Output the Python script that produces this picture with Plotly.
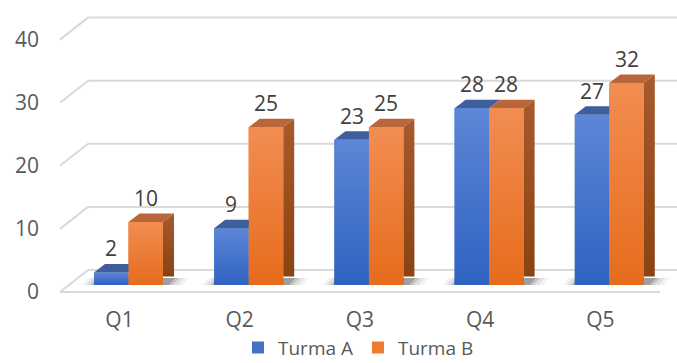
import plotly.graph_objects as go

# ---- data ----
categories = ["Q1", "Q2", "Q3", "Q4", "Q5"]
turma_a = [2, 9, 23, 28, 27]
turma_b = [10, 25, 25, 28, 32]
series_names = ["Turma A", "Turma B"]
y_ticks = [0, 10, 20, 30, 40]

# ---- geometry (pixels -> data units) ----
W, H = 677, 363
ML, MB = 40, 58
PLOT_BOTTOM_PX = H - MB
PPU_X = 120.2          # px per category
PPU_Y = 6.31           # px per value unit
CAT0_PX = 128.5        # pixel x of first category centre
ZERO_PX = 285          # pixel y of bar base


def ux(px):
    return px / PPU_X


def uy(px):
    return px / PPU_Y


def xdata(px):
    return (px - CAT0_PX) / PPU_X


x_range = [xdata(ML), xdata(W)]
y_range = [-uy(PLOT_BOTTOM_PX - ZERO_PX), uy(ZERO_PX)]

bw = ux(34.5)          # bar front width
ddx, ddy = ux(11), uy(8.5)     # bar depth offset
floor_front = -uy(7)
wall_back = uy(15)
slant_x0, slant_x1 = xdata(60), xdata(88)

fig = go.Figure()

# gridlines (back wall + side slant) as shapes below traces
shapes = []
grid_col = "#D9D9D9"
for v in y_ticks:
    shapes.append(dict(type="line", xref="x", yref="y", x0=slant_x1, x1=x_range[1],
                       y0=v + wall_back, y1=v + wall_back,
                       line=dict(color=grid_col, width=2), layer="below"))
    shapes.append(dict(type="line", xref="x", yref="y", x0=slant_x0, x1=slant_x1,
                       y0=v + floor_front, y1=v + wall_back,
                       line=dict(color=grid_col, width=2), layer="below"))
# floor front edge
shapes.append(dict(type="line", xref="x", yref="y", x0=slant_x0, x1=xdata(660),
                   y0=floor_front, y1=floor_front,
                   line=dict(color=grid_col, width=2), layer="below"))

# soft shadows under each group
for i in range(len(categories)):
    for ex_l, ex_r, op in [(12, 20, 0.05), (8, 15, 0.08), (4, 10, 0.12), (1, 6, 0.18)]:
        x0 = i - bw - ux(ex_l)
        x1 = i + bw + ux(ex_r)
        yb = uy(0)
        yt = uy(7)
        fig.add_trace(go.Scatter(
            x=[x0, x1, x1 + ux(6), x0 + ux(6), x0],
            y=[yb, yb, yt, yt, yb],
            fill="toself", fillcolor=f"rgba(0,0,0,{op})", mode="lines",
            line=dict(width=0), hoverinfo="skip", showlegend=False))

# base bars (front faces, also provide legend)
fig.add_trace(go.Bar(x=list(range(len(categories))), y=turma_a, name=series_names[0],
                     width=bw, offset=-bw, marker=dict(color="#4472C4", line=dict(width=0)),
                     hoverinfo="skip"))
fig.add_trace(go.Bar(x=list(range(len(categories))), y=turma_b, name=series_names[1],
                     width=bw, offset=0, marker=dict(color="#ED7D31", line=dict(width=0)),
                     hoverinfo="skip"))


def poly(xs, ys, color=None, grad=None):
    kw = dict(x=xs + [xs[0]], y=ys + [ys[0]], fill="toself", mode="lines",
              line=dict(width=0), hoverinfo="skip", showlegend=False)
    if grad:
        kw["fillgradient"] = dict(type="vertical", colorscale=grad)
    else:
        kw["fillcolor"] = color
    fig.add_trace(go.Scatter(**kw))


blue_grad = [[0, "#2F62C2"], [1, "#5D86D6"]]
orange_grad = [[0, "#E66C1C"], [1, "#F28D52"]]
orange_side = [[0, "#8A4312"], [1, "#A65A2E"]]

for i in range(len(categories)):
    a, b = turma_a[i], turma_b[i]
    xa0, xa1 = i - bw, i
    xb0, xb1 = i, i + bw
    # blue top + front
    poly([xa0, xa1, xa1 + ddx, xa0 + ddx], [a, a, a + ddy, a + ddy], color="#3F5E9C")
    poly([xa0, xa1, xa1, xa0], [0, 0, a, a], grad=blue_grad)
    # orange top, side, front
    poly([xb0, xb1, xb1 + ddx, xb0 + ddx], [b, b, b + ddy, b + ddy], color="#B9673A")
    poly([xb1, xb1 + ddx, xb1 + ddx, xb1], [ddy, ddy, b + ddy, b], grad=orange_side)
    poly([xb0, xb1, xb1, xb0], [0, 0, b, b], grad=orange_grad)

# data labels
FONT = "Open Sans"
annotations = []
for i in range(len(categories)):
    for val, xc in [(turma_a[i], i - bw / 2), (turma_b[i], i + bw / 2)]:
        annotations.append(dict(x=xc, y=val, xref="x", yref="y", text=str(val),
                                showarrow=False, yshift=24, yanchor="middle",
                                font=dict(family=FONT, size=21, color="#404040")))

fig.update_layout(
    width=W, height=H,
    margin=dict(l=ML, r=0, t=0, b=MB, autoexpand=False),
    paper_bgcolor="white", plot_bgcolor="white",
    shapes=shapes, annotations=annotations,
    barmode="overlay",
    xaxis=dict(range=x_range, showgrid=False, zeroline=False, showline=False,
               tickvals=[i - ux(9) for i in range(len(categories))], ticktext=categories,
               ticks="", tickfont=dict(family=FONT, size=21, color="#595959"),
               fixedrange=True),
    yaxis=dict(range=y_range, showgrid=False, zeroline=False, showline=False,
               tickvals=[v + floor_front for v in y_ticks], ticktext=[str(v) for v in y_ticks],
               ticks="", tickfont=dict(family=FONT, size=21, color="#595959"),
               fixedrange=True),
    legend=dict(orientation="h", x=0.5, xanchor="center", y=-0.14, yanchor="middle",
                font=dict(family=FONT, size=19, color="#595959"),
                itemwidth=30, traceorder="normal", bgcolor="rgba(0,0,0,0)"),
    showlegend=True,
)

fig.write_html("out.html")
